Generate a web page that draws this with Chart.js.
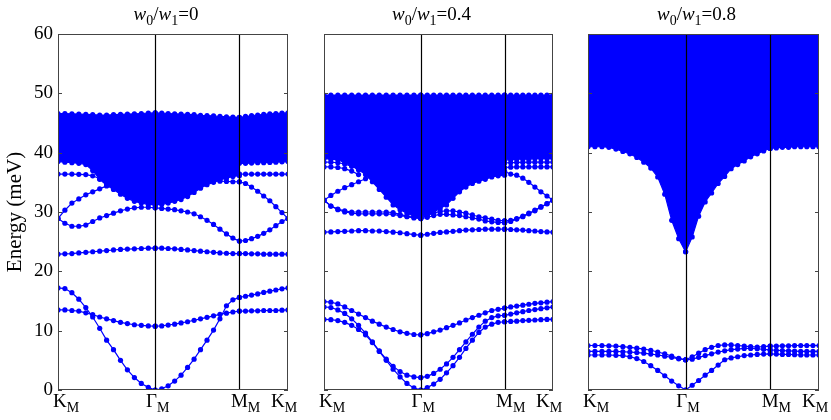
<!DOCTYPE html>
<html><head><meta charset="utf-8">
<script src="https://cdn.jsdelivr.net/npm/chart.js@4.4.1/dist/chart.umd.min.js"></script>
<style>
html,body{margin:0;padding:0;background:#fff;}
#wrap{position:relative;width:831px;height:420px;overflow:hidden;}
canvas{position:absolute;left:0;top:0;}
</style></head><body>
<div id="wrap">
<canvas id="c1" width="831" height="420"></canvas>
<canvas id="c2" width="831" height="420"></canvas>
<canvas id="c3" width="831" height="420"></canvas>
</div>
<script>
// k-path sample positions: K->Gamma (15), Gamma->M (14), M->K (9)
const kPath = [0,0.071,0.143,0.214,0.286,0.357,0.429,0.5,0.571,0.643,0.714,0.786,0.857,0.929,1,
  1,1.067,1.133,1.2,1.266,1.333,1.4,1.466,1.533,1.6,1.666,1.733,1.799,1.866,
  1.866,1.929,1.991,2.054,2.116,2.179,2.241,2.304,2.366];
const kTicks = [0, 1, 1.866, 2.366];
const kTickMain = ['K', 'Γ', 'M', 'K'];
const kTickSub = ['M', 'M', 'M', 'M'];
const yTicks = [0, 10, 20, 30, 40, 50, 60];
const titleValues = ['0', '0.4', '0.8'];
const yTitle = 'Energy (meV)';
const _ = null;

// ---------- panel 1: w0/w1 = 0 ----------
const p1Acoustic = [17.2,17.1,16.4,15.3,13.9,12.3,10.4,8.4,6.8,5.0,3.4,2.1,1.1,0.45,0,
  0,0.2,0.7,1.5,2.5,3.8,5.2,6.8,8.4,10.1,12.0,14.2,15.2,15.6,
  15.6,15.8,16.0,16.2,16.45,16.65,16.85,17.05,17.2];
const p1BandB = [13.5,13.5,13.4,13.3,13.0,12.7,12.3,12.0,11.7,11.4,11.2,11.0,10.9,10.8,10.75,
  10.75,10.8,10.95,11.1,11.3,11.5,11.75,12.0,12.25,12.5,12.75,12.95,13.15,13.3,
  13.3,13.3,13.35,13.35,13.4,13.4,13.4,13.45,13.5];
const p1BandC = [22.9,22.95,23.0,23.1,23.2,23.3,23.4,23.5,23.6,23.7,23.75,23.8,23.85,23.9,23.9,
  23.9,23.9,23.85,23.8,23.7,23.6,23.5,23.4,23.3,23.2,23.1,23.05,23.0,23.0,
  23.0,23.0,22.95,22.95,22.9,22.9,22.9,22.9,22.9];
const p1BandD = [28.9,28.1,27.6,27.6,27.8,28.4,29.0,29.4,29.8,30.2,30.5,30.7,30.8,30.8,30.7,
  30.7,30.6,30.5,30.4,30.2,30.0,29.7,29.2,28.6,27.9,27.1,26.3,25.6,25.1,
  25.1,25.2,25.5,25.9,26.4,27.0,27.7,28.4,28.9];
const p1BandD2 = [28.9,30.3,31.5,32.2,32.9,33.4,33.9,34.4,_,_,_,_,_,_,_,
  _,_,_,_,_,_,_,_,_,35.3,35.2,35.15,35.1,35.1,
  35.1,34.8,34.2,33.5,32.7,31.9,30.9,29.9,28.9];
const p1BandE = [36.4,36.4,36.4,36.35,36.3,36.1,35.6,34.9,_,_,_,_,_,_,_,
  _,_,_,_,_,_,_,_,_,_,36.1,36.3,36.4,36.4,
  36.4,36.4,36.4,36.4,36.4,36.4,36.4,36.4,36.4];
const p1ContLow = [38.5,38.4,38.3,38.2,38.0,37.0,35.5,34.5,33.8,33.0,32.3,31.8,31.5,31.3,31.2,
  31.2,31.3,31.5,31.8,32.1,32.6,33.3,34.0,34.6,35.0,35.4,35.7,36.0,36.1,
  38.2,38.2,38.25,38.3,38.3,38.35,38.4,38.45,38.5];
const p1ContHigh = [46.6,46.6,46.55,46.5,46.45,46.4,46.35,46.35,46.4,46.45,46.5,46.55,46.6,46.65,46.7,
  46.7,46.65,46.6,46.55,46.5,46.45,46.4,46.3,46.25,46.2,46.1,46.05,46.0,45.95,
  45.95,46.1,46.25,46.35,46.45,46.55,46.6,46.65,46.7];

// ---------- panel 2: w0/w1 = 0.4 ----------
const p2BandL1 = [14.9,14.8,14.5,14.0,13.4,12.8,12.2,11.6,11.1,10.6,10.2,9.8,9.55,9.35,9.3,
  9.3,9.5,9.8,10.1,10.5,10.9,11.3,11.8,12.2,12.6,13.0,13.4,13.6,13.8,
  13.8,14.0,14.15,14.3,14.45,14.6,14.7,14.8,14.9];
const p2BandL2 = [14.0,13.9,13.5,12.9,12.0,10.9,9.6,8.1,6.6,5.2,4.0,3.1,2.5,2.2,2.1,
  2.1,2.3,2.8,3.5,4.4,5.5,6.8,8.1,9.4,10.6,11.6,12.2,12.5,12.6,
  12.6,12.8,13.0,13.2,13.4,13.55,13.7,13.85,14.0];
const p2BandL3 = [11.9,11.85,11.7,11.4,10.9,10.2,9.3,8.0,6.5,5.0,3.5,2.2,1.1,0.35,0,
  0,0.4,1.0,1.8,2.9,4.1,5.5,7.0,8.4,9.7,10.6,11.1,11.4,11.5,
  11.5,11.55,11.6,11.7,11.75,11.8,11.85,11.9,11.9];
const p2BandM = [26.6,26.65,26.7,26.75,26.8,26.85,26.85,26.8,26.8,26.7,26.6,26.5,26.35,26.2,26.1,
  26.1,26.25,26.4,26.55,26.65,26.75,26.85,26.95,27.0,27.05,27.1,27.1,27.1,27.1,
  27.1,27.05,27.0,26.95,26.85,26.8,26.7,26.65,26.6];
const p2BandN1 = [32.0,31.0,30.5,30.2,30.0,30.0,30.0,30.0,30.0,30.0,29.9,29.6,29.3,29.1,29.0,
  29.0,29.4,29.8,30.1,30.2,30.2,30.0,29.8,29.5,29.2,29.0,28.8,28.6,28.5,
  28.5,28.6,28.9,29.3,29.8,30.3,30.9,31.4,32.0];
const p2BandN1b = [32.0,31.0,30.4,30.0,29.8,29.7,29.7,29.7,29.7,29.7,29.6,29.4,29.2,29.0,28.9,
  28.9,29.1,29.4,29.6,29.6,29.5,29.4,29.2,29.0,28.8,28.5,28.35,28.25,28.2,
  28.2,28.4,28.8,29.2,29.7,30.2,30.8,31.4,32.0];
const p2BandN2 = [32.0,32.8,33.5,34.1,34.6,35.1,35.6,36.0,_,_,_,_,_,_,_,
  _,_,_,_,_,_,_,_,_,_,_,36.9,36.85,36.8,
  36.8,36.4,36.2,35.7,35.0,34.2,33.4,32.7,32.0];
const p2BandO1 = [38.4,38.4,38.3,38.1,37.7,37.2,_,_,_,_,_,_,_,_,_,
  _,_,_,_,_,_,_,_,_,_,_,_,38.1,38.3,
  38.3,38.3,38.35,38.35,38.4,38.4,38.4,38.4,38.4];
const p2BandO2 = [37.6,37.6,37.5,37.3,36.9,36.3,_,_,_,_,_,_,_,_,_,
  _,_,_,_,_,_,_,_,_,_,_,37.0,37.3,37.5,
  37.5,37.55,37.6,37.6,37.6,37.6,37.6,37.6,37.6];
const p2ContLow = [39.0,38.9,38.8,38.3,37.8,37.1,36.3,35.1,33.8,32.5,31.2,30.4,29.8,29.3,29.2,
  29.2,29.5,30.0,30.6,31.2,32.3,33.4,34.2,34.8,35.2,35.5,35.9,36.1,36.2,
  38.8,38.8,38.9,38.9,38.9,39.0,39.0,39.0,39.0];
const p2ContHigh = [49.7,49.7,49.7,49.7,49.7,49.7,49.7,49.7,49.7,49.7,49.7,49.7,49.7,49.7,49.7,
  49.7,49.7,49.7,49.7,49.7,49.7,49.7,49.7,49.7,49.7,49.7,49.7,49.7,49.7,
  49.7,49.7,49.7,49.7,49.7,49.7,49.7,49.7,49.7];

// ---------- panel 3: w0/w1 = 0.8 ----------
const p3BandP1 = [7.5,7.5,7.5,7.45,7.4,7.3,7.2,7.05,6.9,6.7,6.4,6.1,5.7,5.35,5.1,
  5.1,5.6,6.2,6.8,7.2,7.5,7.6,7.6,7.5,7.4,7.3,7.25,7.3,7.4,
  7.4,7.4,7.45,7.45,7.5,7.5,7.5,7.5,7.5];
const p3BandP2 = [6.5,6.5,6.5,6.5,6.5,6.45,6.4,6.3,6.2,6.05,5.9,5.7,5.5,5.25,5.1,
  5.1,5.2,5.5,5.8,6.1,6.4,6.6,6.8,6.9,7.0,7.0,6.95,6.85,6.75,
  6.75,6.7,6.65,6.6,6.55,6.5,6.5,6.5,6.5];
const p3BandP3 = [5.9,5.9,5.9,5.9,5.85,5.8,5.6,5.3,4.8,4.1,3.3,2.4,1.5,0.7,0,
  0,0.8,1.6,2.5,3.3,4.2,5.1,5.4,5.6,5.8,5.9,6.0,6.05,6.1,
  6.1,6.05,6.0,6.0,5.95,5.9,5.9,5.9,5.9];
const p3ContLow = [41.0,41.0,41.0,40.9,40.6,40.2,39.8,39.2,38.4,37.4,35.9,33.0,28.6,25.5,23.3,
  23.3,25.8,29.3,31.7,33.2,34.8,36.0,37.3,38.0,38.6,39.3,39.8,40.3,40.7,
  40.7,40.8,40.9,40.9,41.0,41.0,41.0,41.0,41.0];
const p3ContHigh = [60,60,60,60,60,60,60,60,60,60,60,60,60,60,60,
  60,60,60,60,60,60,60,60,60,60,60,60,60,60,
  60,60,60,60,60,60,60,60,60];

const BLUE = '#0000ff';
const SERIF = '"Liberation Serif", "Times New Roman", serif';

function series(vals, extra) {
  return Object.assign({
    data: vals.map((v, i) => ({x: kPath[i], y: v})),
    borderColor: BLUE, borderWidth: 1.2,
    pointRadius: 2.6, pointHoverRadius: 2.6,
    pointBackgroundColor: BLUE, pointBorderWidth: 0,
    fill: false, tension: 0, spanGaps: false
  }, extra || {});
}

function subText(ctx, x, y, main, sub, size, italicMain) {
  ctx.font = (italicMain ? 'italic ' : '') + size + 'px ' + SERIF;
  ctx.fillText(main, x, y);
  let w = ctx.measureText(main).width;
  ctx.font = Math.round(size * 0.72) + 'px ' + SERIF;
  ctx.fillText(sub, x + w, y + size * 0.24);
  return w + ctx.measureText(sub).width;
}

const labelOffsets = [-5, -9.3, -8.5, -17];

const decor = {
  id: 'decor',
  afterDatasetsDraw(chart, args, opts) {
    const {ctx, chartArea: {left, right, top, bottom}, scales: {x, y}} = chart;
    ctx.save();
    // vertical lines at Gamma and M
    ctx.strokeStyle = '#000'; ctx.lineWidth = 1.2;
    [kTicks[1], kTicks[2]].forEach(k => {
      const px = Math.round(x.getPixelForValue(k)) + 0.5;
      ctx.beginPath(); ctx.moveTo(px, top); ctx.lineTo(px, bottom); ctx.stroke();
    });
    // frame
    ctx.strokeStyle = '#444'; ctx.lineWidth = 1;
    ctx.strokeRect(Math.round(left) + 0.5, Math.round(top) + 0.5, Math.round(right - left) - 1, Math.round(bottom - top) - 1);
    // inward ticks on both sides
    yTicks.forEach(v => {
      const py = Math.round(y.getPixelForValue(v)) + 0.5;
      ctx.beginPath();
      ctx.moveTo(left, py); ctx.lineTo(left + 4, py);
      ctx.moveTo(right - 4, py); ctx.lineTo(right, py);
      ctx.stroke();
    });
    // x labels
    ctx.fillStyle = '#000'; ctx.textBaseline = 'alphabetic'; ctx.textAlign = 'left';
    kTicks.forEach((k, i) => {
      const px = x.getPixelForValue(k) + labelOffsets[i];
      subText(ctx, px, 407, kTickMain[i], kTickSub[i], 19, false);
    });
    // title: w0/w1=val
    const size = 19, subSize = Math.round(size * 0.72);
    const parts = [
      {t: 'w', f: 'italic ' + size + 'px ' + SERIF, dy: 0},
      {t: '0', f: subSize + 'px ' + SERIF, dy: 4.5},
      {t: '/', f: size + 'px ' + SERIF, dy: 0},
      {t: 'w', f: 'italic ' + size + 'px ' + SERIF, dy: 0},
      {t: '1', f: subSize + 'px ' + SERIF, dy: 4.5},
      {t: '=' + opts.value, f: size + 'px ' + SERIF, dy: 0}
    ];
    let total = 0;
    parts.forEach(p => { ctx.font = p.f; p.w = ctx.measureText(p.t).width; total += p.w; });
    let tx = (left + right) / 2 - 7 - total / 2;
    parts.forEach(p => { ctx.font = p.f; ctx.fillText(p.t, tx, 20 + p.dy); tx += p.w; });
    ctx.restore();
  }
};

function makeChart(id, box, showY, titleValue, contLow, contHigh, bands) {
  const datasets = [series(contLow), series(contHigh, {fill: '-1', backgroundColor: BLUE})];
  bands.forEach(b => datasets.push(series(b)));
  return new Chart(document.getElementById(id), {
    type: 'line',
    data: {datasets},
    plugins: [decor],
    options: {
      responsive: false, animation: false, events: [],
      layout: {padding: {left: showY ? 0 : box.l, right: 831 - box.r, top: box.t, bottom: 0}},
      plugins: {legend: {display: false}, tooltip: {enabled: false}, decor: {value: titleValue}},
      scales: {
        x: {
          type: 'linear', min: 0, max: kTicks[3],
          ticks: {display: false}, grid: {display: false, drawTicks: false}, border: {display: false},
          afterFit: s => { s.height = 420 - box.b; }
        },
        y: {
          type: 'linear', min: 0, max: 60,
          ticks: {display: showY, stepSize: 10, color: '#000', padding: 5, font: {family: SERIF, size: 19}},
          grid: {display: false, drawTicks: false}, border: {display: false},
          title: {display: showY, text: yTitle, color: '#000', font: {family: SERIF, size: 21}, padding: {top: 3, bottom: 0}},
          afterFit: s => { s.width = showY ? box.l : 0; }
        }
      }
    }
  });
}

makeChart('c1', {l: 58, r: 288, t: 34, b: 390}, true, titleValues[0], p1ContLow, p1ContHigh,
  [p1Acoustic, p1BandB, p1BandC, p1BandD, p1BandD2, p1BandE]);
makeChart('c2', {l: 324, r: 553, t: 34, b: 390}, false, titleValues[1], p2ContLow, p2ContHigh,
  [p2BandL1, p2BandL2, p2BandL3, p2BandM, p2BandN1, p2BandN1b, p2BandN2, p2BandO1, p2BandO2]);
makeChart('c3', {l: 588, r: 819, t: 34, b: 390}, false, titleValues[2], p3ContLow, p3ContHigh,
  [p3BandP1, p3BandP2, p3BandP3]);
</script>
</body></html>
